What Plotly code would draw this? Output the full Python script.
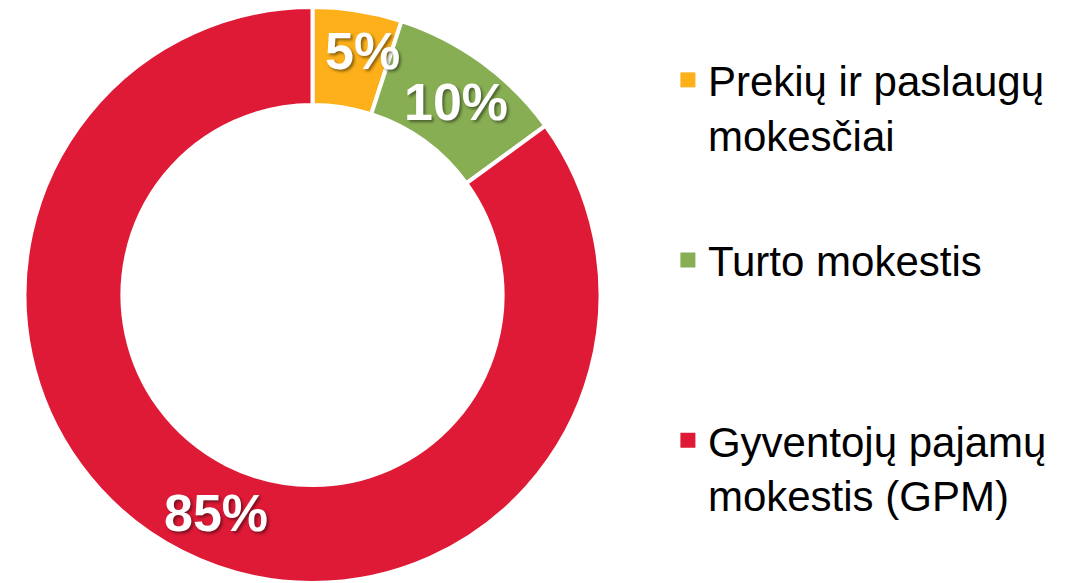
import math
import plotly.graph_objects as go

categories = ["Prekių ir paslaugų<br>mokesčiai", "Turto mokestis", "Gyventojų pajamų<br>mokestis (GPM)"]
values = [5, 10, 85]
colors = ["#FDB01A", "#88AE54", "#DE1A36"]

W, H = 1079, 583
cx, cy, R = 312.5, 295.5, 288.5
HOLE = 0.66
# small label nudges (px) to mimic the original's hand placement
label_nudge = [(12, 6), (2, -2), (13, -2)]


def clamp(v):
    return min(1.0, max(0.0, v))


fig = go.Figure()
fig.add_trace(go.Pie(
    labels=categories,
    values=values,
    sort=False,
    direction="clockwise",
    rotation=0,
    hole=HOLE,
    marker=dict(colors=colors, line=dict(color="white", width=4)),
    textinfo="none",
    hoverinfo="label+percent",
    showlegend=False,
    domain=dict(x=[clamp((cx - R) / W), clamp((cx + R) / W)],
                y=[clamp(1 - (cy + R) / H), clamp(1 - (cy - R) / H)]),
))

# percentage labels placed at the middle of each ring segment (derived from values)
total = sum(values)
r_mid = R * (1 + HOLE) / 2 + 2
cum = 0
for v, (dx, dy) in zip(values, label_nudge):
    ang = (cum + v / 2) / total * 2 * math.pi
    cum += v
    px = cx + r_mid * math.sin(ang)
    py = cy - r_mid * math.cos(ang)
    fig.add_annotation(
        x=px / W, y=1 - py / H, xref="paper", yref="paper",
        xshift=dx, yshift=dy,
        text=f"{round(v / total * 100)}%", showarrow=False,
        xanchor="center", yanchor="middle",
        font=dict(family="Liberation Sans, Arial", size=52, color="white", weight="bold",
                  shadow="2px 2px 3px rgba(0,0,0,0.45)"),
    )

# legend entries (one legend each so they can be spaced like the original)
legend_tops = [0.921, 0.612, 0.303]
for i, (name, col) in enumerate(zip(categories, colors)):
    key = "legend" if i == 0 else f"legend{i + 1}"
    fig.add_trace(go.Scatter(
        x=[None], y=[None], mode="markers", name=name,
        marker=dict(symbol="square", size=15, color=col),
        legend=key, showlegend=True, hoverinfo="skip",
    ))
    fig.update_layout(**{key: dict(
        x=0.619, y=legend_tops[i], xanchor="left", yanchor="top",
        font=dict(family="Liberation Sans, Arial", size=42, color="black"),
        valign="top", itemwidth=30, bgcolor="rgba(0,0,0,0)",
    )})

fig.update_layout(
    width=W, height=H,
    margin=dict(l=0, r=0, t=0, b=0),
    paper_bgcolor="white",
    plot_bgcolor="white",
    xaxis=dict(visible=False),
    yaxis=dict(visible=False),
)

fig.write_html("out.html", config={"displayModeBar": False},
               post_script="document.body.style.margin='0';")
